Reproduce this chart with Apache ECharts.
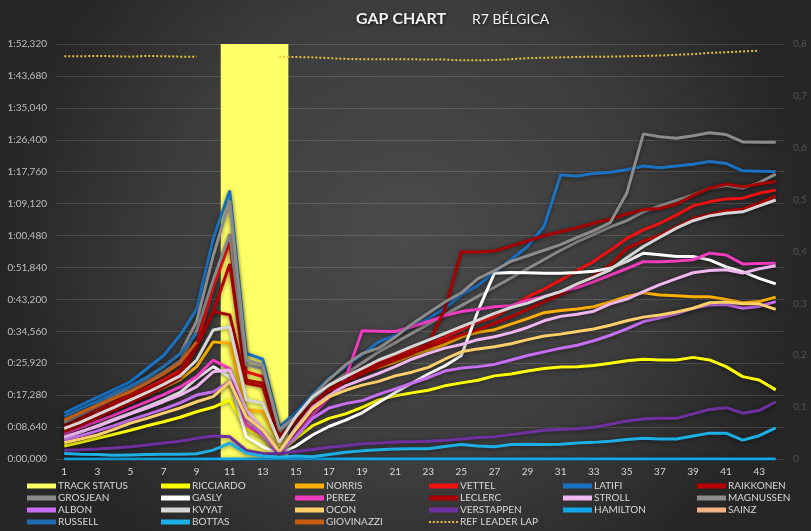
<!DOCTYPE html>
<html><head><meta charset="utf-8">
<script src="https://cdn.jsdelivr.net/npm/echarts@6/dist/echarts.min.js"></script>
<style>html,body{margin:0;padding:0;background:#333}#c{width:811px;height:531px}</style>
</head><body><div id="c"></div>
<script>
const laps = Array.from({length:44},(_, i)=>String(i+1));
const trackStatus = [null,null,null,null,null,null,null,null,null,null, 0.8,0.8,0.8,0.8, null,null,null,null,null,null, null,null,null,null,null,null,null,null,null,null, null,null,null,null,null,null,null,null,null,null, null,null,null,null];
const ricciardo = [3.5,4.5,5.6,6.7,7.8,9.0,10.1,11.3,12.8,14.0, 16.0,8.3,6.0,1.5,5.5,9.0,11.0,12.2,14.0,16.0, 17.1,17.9,18.6,19.8,20.6,21.3,22.5,23.0,23.8,24.5, 24.9,25.0,25.3,25.9,26.6,27.0,26.8,26.8,27.5,26.8, 25.0,22.3,21.4,18.7];
const norris = [7.8,9.5,11.3,13.3,15.5,17.3,19.3,21.5,25.0,31.7, 31.3,13.3,12.8,4.2,11.0,16.5,19.5,21.8,23.5,24.8, 26.2,28.0,29.5,31.0,33.0,34.3,35.0,36.5,38.0,39.6, 40.2,40.6,41.2,42.5,44.0,45.0,44.4,44.2,43.9,43.9, 43.2,42.3,42.6,43.8];
const vettel = [9.7,11.6,13.5,15.4,17.3,19.3,21.5,24.0,31.2,46.5, 58.8,23.6,22.3,6.0,11.0,15.5,19.0,21.8,24.0,26.3, 28.0,29.5,31.0,33.0,35.0,37.0,38.5,41.0,43.9,46.0, 48.4,51.0,53.5,56.5,59.7,62.0,63.8,66.0,68.5,69.6, 70.4,70.6,71.9,72.8];
const latifi = [12.4,14.6,16.7,18.8,20.9,24.5,28.0,33.5,40.5,59.6, 72.6,28.6,27.0,8.7,12.5,17.5,21.8,25.0,28.3,31.7, 33.5,35.8,38.0,40.8,44.5,47.0,50.5,54.0,57.5,63.0, 76.9,76.5,77.3,77.6,78.3,79.3,78.8,79.3,79.8,80.5, 80.0,78.0,77.9,77.8];
const raikkonen = [8.7,10.6,12.6,14.6,16.6,18.6,20.8,23.2,30.6,39.8, 52.8,21.3,20.5,5.6,10.5,15.0,18.5,21.3,23.5,25.5, 27.2,28.8,30.3,32.0,33.6,35.0,36.7,38.5,40.5,42.6, 44.5,47.0,49.5,52.5,57.0,59.0,60.6,62.8,65.1,66.2, 67.2,67.6,69.2,71.2];
const grosjean = [9.9,12.0,14.2,16.4,18.6,21.0,23.6,26.5,34.8,48.5, 60.9,25.5,24.5,7.5,11.0,16.0,20.0,23.0,26.0,29.0, 31.5,34.0,36.5,39.0,41.5,44.0,46.5,49.0,51.5,54.0, 56.5,58.8,60.8,62.8,64.5,66.9,68.5,70.0,71.5,73.3, 74.0,73.3,74.8,77.1];
const gasly = [5.6,7.3,9.0,10.8,12.4,14.2,16.0,18.0,21.8,25.0, 22.3,6.0,3.3,1.5,3.5,6.5,8.8,10.5,12.5,15.3, 18.0,20.5,23.0,25.2,28.0,40.0,50.3,50.5,50.4,50.3, 50.3,50.5,50.8,51.6,53.5,55.7,55.3,54.8,54.8,53.9, 52.0,50.7,48.9,47.4];
const perez = [6.9,8.5,10.2,11.9,13.7,15.5,17.4,19.5,22.3,26.8, 24.4,9.2,6.4,1.3,6.5,12.0,16.5,21.8,34.7,34.6, 34.5,35.8,37.2,38.8,39.9,40.5,41.2,41.5,43.0,44.0, 45.3,46.4,48.0,49.8,51.5,53.4,53.4,53.6,53.9,55.7, 55.2,52.8,52.9,53.0];
const leclerc = [7.4,9.2,11.2,13.2,15.2,17.2,19.5,22.0,30.3,39.9, 39.0,20.5,19.6,5.5,10.0,15.0,18.5,21.0,23.0,25.0, 26.8,28.5,31.0,40.5,56.1,56.0,56.3,57.6,59.0,60.5, 61.5,62.6,63.8,65.0,66.3,67.5,67.8,69.0,71.3,73.3, 74.4,73.7,74.4,75.1];
const stroll = [6.0,7.4,8.8,10.5,12.2,13.8,15.5,17.3,19.6,23.6, 24.1,13.3,8.0,2.0,8.5,14.0,17.2,19.8,21.5,23.2, 25.0,27.0,28.6,30.0,31.0,32.3,33.1,34.2,35.6,37.4, 38.6,39.2,40.0,42.0,43.3,45.3,47.2,48.8,50.4,51.0, 51.2,50.3,51.5,52.3];
const magnussen = [10.1,12.4,14.7,17.0,19.6,22.0,25.0,28.5,37.2,55.0, 69.9,26.8,25.4,8.0,11.5,17.0,21.5,25.5,28.5,30.0, 33.0,36.5,39.5,42.5,45.0,48.8,51.0,53.5,55.0,56.5, 58.0,60.0,61.8,64.0,72.0,88.0,87.2,86.8,87.5,88.3, 87.8,85.8,85.7,85.7];
const albon = [5.1,6.3,7.6,9.0,10.6,12.0,13.5,15.2,17.3,18.2, 20.9,11.1,6.4,1.8,6.0,11.0,13.8,15.0,15.8,17.5, 19.0,20.5,22.0,23.8,24.6,25.0,25.6,26.8,28.0,29.0, 30.0,30.8,32.0,33.5,35.2,37.2,38.2,39.3,40.8,41.7, 41.8,40.8,41.3,42.6];
const kvyat = [8.3,10.0,12.0,14.0,16.0,18.0,20.2,22.5,26.8,34.9, 35.8,16.0,15.1,4.5,11.5,16.8,20.0,22.3,24.5,26.8, 28.5,30.4,32.2,34.0,35.8,37.6,39.4,41.0,42.2,43.9, 45.3,47.4,49.2,51.2,54.5,57.5,60.0,62.5,64.5,65.8, 66.5,66.9,68.5,70.1];
const ocon = [4.4,5.4,6.5,8.0,9.7,11.0,12.4,13.8,15.5,16.9, 20.9,11.4,7.8,2.0,8.0,13.5,16.8,18.6,20.0,21.0, 22.5,23.5,24.8,27.0,29.0,29.8,30.4,31.2,32.3,33.3, 33.8,34.5,35.2,36.2,37.4,38.4,39.0,39.8,40.8,42.3, 42.5,42.0,42.0,40.5];
const verstappen = [2.4,2.5,2.7,3.0,3.3,3.8,4.3,4.8,5.6,6.2, 6.0,2.3,1.5,1.4,2.0,2.6,3.2,3.6,4.1,4.3, 4.6,4.7,4.8,5.0,5.4,5.8,6.0,6.6,7.2,7.8, 8.0,8.2,8.6,9.4,10.3,10.8,11.0,11.0,12.2,13.4, 13.9,12.4,13.1,15.5];
const hamilton = [0,0,0,0,0,0,0,0,0,0, 0,0,0,0,0,0,0,0,0,0, 0,0,0,0,0,0,0,0,0,0, 0,0,0,0,0,0,0,0,0,0, 0,0,0,0];
const sainz = [];
const russell = [11.5,13.6,15.6,17.8,19.8,22.2,25.0,28.5,34.0];
const bottas = [1.5,1.3,1.2,1.0,1.1,1.2,1.3,1.3,1.4,2.4, 4.3,1.6,0.8,0.5,0.8,0.6,1.2,1.8,2.2,2.5, 2.7,2.8,2.8,3.4,3.9,3.5,3.3,3.9,4.0,3.9, 4.0,4.3,4.5,4.8,5.3,5.6,5.4,5.4,6.2,7.0, 7.0,5.1,6.3,8.4];
const giovinazzi = [10.6,12.6,14.5,16.4,18.2,20.5,23.0,26.0,31.7];
const refLeaderLap = [109.0,109.0,109.1,109.0,108.9,109.1,109.0,108.9,108.9,null, null,null,null,108.9,108.8,108.7,108.5,108.3,108.2,108.2, 108.2,108.2,108.1,108.1,107.9,107.9,108.0,108.2,108.5,108.6, 108.7,108.8,108.9,108.9,109.0,109.1,109.2,109.4,109.6,109.9, 110.1,110.3,110.5,null];
const leftTicks = {min:0, max:112.32, step:8.64};
const rightTicks = {min:0, max:0.8, step:0.1};

const drivers = [
  ['RICCIARDO', ricciardo, '#FFFF00'],
  ['NORRIS', norris, '#FFB000'],
  ['VETTEL', vettel, '#F01010'],
  ['LATIFI', latifi, '#1A72C4'],
  ['RAIKKONEN', raikkonen, '#B80000'],
  ['GROSJEAN', grosjean, '#8A8A8A'],
  ['GASLY', gasly, '#FFFFFF'],
  ['PEREZ', perez, '#F23CC0'],
  ['LECLERC', leclerc, '#A80000'],
  ['STROLL', stroll, '#F0B6F0'],
  ['MAGNUSSEN', magnussen, '#8C8C8C'],
  ['ALBON', albon, '#C86EF2'],
  ['KVYAT', kvyat, '#D6D6D6'],
  ['OCON', ocon, '#FFCF6A'],
  ['VERSTAPPEN', verstappen, '#7030A0'],
  ['HAMILTON', hamilton, '#10A8E8'],
  ['SAINZ', sainz, '#F4B183'],
  ['RUSSELL', russell, '#1F6CB0'],
  ['BOTTAS', bottas, '#1CB0E6'],
  ['GIOVINAZZI', giovinazzi, '#C55A11']
];

function fmtTime(v){
  const ms = Math.round(v*1000);
  const m = Math.floor(ms/60000);
  const s = Math.floor((ms%60000)/1000);
  const r = ms%1000;
  return m + ':' + String(s).padStart(2,'0') + ',' + String(r).padStart(3,'0');
}

const series = [{
  name:'TRACK STATUS', type:'bar', yAxisIndex:1, data:trackStatus,
  barWidth:18, barGap:'0%', barCategoryGap:'0%',
  itemStyle:{color:'#FFFF66'}, z:1
}];
drivers.forEach(([n, d, c]) => {
  series.push({
    name:n, type:'line', data:d, symbol:'none', connectNulls:false,
    lineStyle:{color:c, width:3, shadowColor:'rgba(0,0,0,0.45)', shadowBlur:4, shadowOffsetY:1},
    itemStyle:{color:c}, z:3
  });
});
series.push({
  name:'REF LEADER LAP', type:'line', data:refLeaderLap, symbol:'none',
  lineStyle:{color:'#E8C23A', width:2, type:'dotted'}, itemStyle:{color:'#E8C23A'}, z:4
});

const legendRows = [
  ['TRACK STATUS','RICCIARDO','NORRIS','VETTEL','LATIFI','RAIKKONEN'],
  ['GROSJEAN','GASLY','PEREZ','LECLERC','STROLL','MAGNUSSEN'],
  ['ALBON','KVYAT','OCON','VERSTAPPEN','HAMILTON','SAINZ'],
  ['RUSSELL','BOTTAS','GIOVINAZZI','REF LEADER LAP']
];
const legends = [];
legendRows.forEach((row, r) => row.forEach((n, c) => {
  legends.push({
    data:[n === 'REF LEADER LAP' ? {name:n, icon:'path://M0,0L2,0L2,2L0,2Z M4,0L6,0L6,2L4,2Z M8,0L10,0L10,2L8,2Z M12,0L14,0L14,2L12,2Z M16,0L18,0L18,2L16,2Z M20,0L22,0L22,2L20,2Z M24,0L26,0L26,2L24,2Z M28,0L30,0L30,2L28,2Z'} : {name:n, icon:'rect'}],
    left:27 + 134*c, top:481 + 12*r, orient:'horizontal', itemGap:0,
    itemWidth:29, itemHeight: n === 'REF LEADER LAP' ? 2 : 5,
    padding:0, selectedMode:false,
    textStyle:{color:'#D9D9D9', fontSize:10, fontFamily:'Lato', padding:[0,0,0,-3]}
  });
}));

const chart = echarts.init(document.getElementById('c'), null, {renderer:'canvas'});
chart.setOption({
  animation:false,
  backgroundColor:{type:'radial', x:0.5, y:0.45, r:0.75,
    colorStops:[{offset:0,color:'#4b4b4b'},{offset:0.6,color:'#3c3c3c'},{offset:1,color:'#262626'}]},
  title:[
    {text:'GAP CHART', left:356, top:11, padding:0,
     textStyle:{color:'#F2F2F2', fontSize:16, fontWeight:'bold', fontFamily:'Lato',
       textShadowColor:'rgba(0,0,0,0.7)', textShadowBlur:3, textShadowOffsetX:1, textShadowOffsetY:1}},
    {text:'R7 BÉLGICA', left:472, top:12, padding:0,
     textStyle:{color:'#F2F2F2', fontSize:14, fontWeight:'normal', fontFamily:'Lato',
       textShadowColor:'rgba(0,0,0,0.6)', textShadowBlur:3, textShadowOffsetX:1, textShadowOffsetY:1}}
  ],
  grid:{left:56, right:27, top:44, bottom:72, containLabel:false},
  legend: legends,
  xAxis:{
    type:'category', data:laps, boundaryGap:true,
    axisLine:{show:false}, axisTick:{show:false},
    axisLabel:{color:'#D9D9D9', fontSize:10, interval:1, margin:8, fontFamily:'Lato'},
    splitLine:{show:false}
  },
  yAxis:[
    {type:'value', min:leftTicks.min, max:leftTicks.max, interval:leftTicks.step,
     axisLine:{show:false}, axisTick:{show:false},
     axisLabel:{color:'#BFBFBF', fontSize:10, formatter:fmtTime, margin:9, fontFamily:'Lato'},
     splitLine:{lineStyle:{color:'rgba(255,255,255,0.14)', width:1}}},
    {type:'value', min:rightTicks.min, max:rightTicks.max, interval:rightTicks.step, position:'right',
     axisLine:{show:false}, axisTick:{show:false},
     axisLabel:{color:'#555555', fontSize:10, margin:9, fontFamily:'Lato',
       formatter:v => (Math.round(v*10)/10).toString().replace('.', ',')},
     splitLine:{show:false}}
  ],
  series
});
</script></body></html>
